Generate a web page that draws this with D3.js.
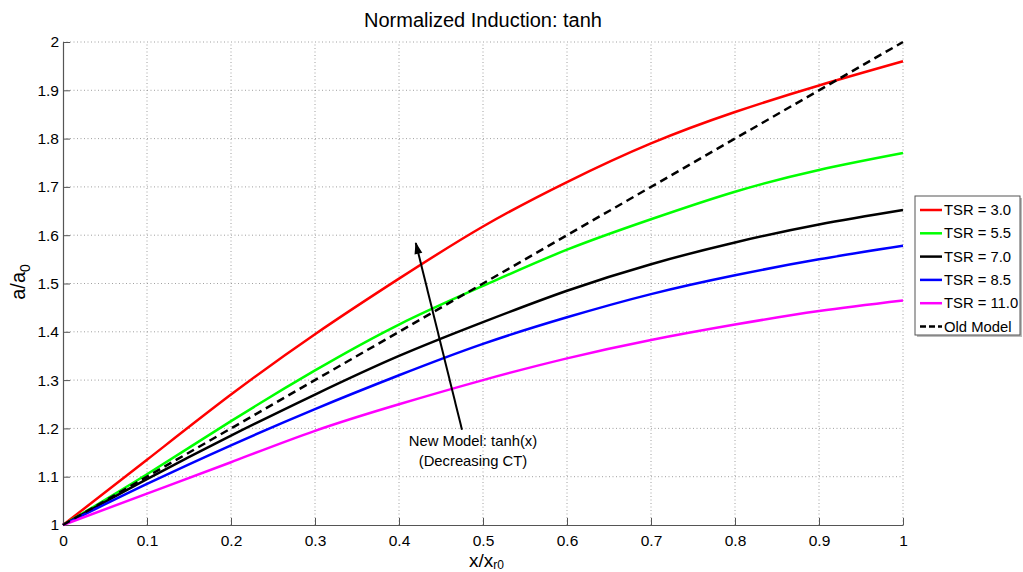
<!DOCTYPE html>
<html>
<head>
<meta charset="utf-8">
<script src="https://cdn.jsdelivr.net/npm/d3@7"></script>
<style>
  body { margin: 0; background: #fff; }
  text { font-family: "Liberation Sans", Arial, sans-serif; fill: #000; }
</style>
</head>
<body>
<svg id="chart" width="1023" height="572"></svg>
<script>
// values
const xs = [0, 0.1, 0.2, 0.3, 0.4, 0.5, 0.6, 0.7, 0.8, 0.9, 1.0]
const tsr30 = [1, 1.135, 1.27, 1.395, 1.51, 1.618, 1.71, 1.79, 1.855, 1.91, 1.96]
const tsr55 = [1, 1.105, 1.215, 1.32, 1.415, 1.495, 1.57, 1.633, 1.69, 1.735, 1.77]
const tsr70 = [1, 1.095, 1.185, 1.27, 1.35, 1.42, 1.485, 1.54, 1.585, 1.622, 1.652]
const tsr85 = [1, 1.085, 1.165, 1.24, 1.31, 1.375, 1.43, 1.478, 1.517, 1.55, 1.578]
const tsr110 = [1, 1.065, 1.13, 1.195, 1.25, 1.30, 1.345, 1.383, 1.415, 1.443, 1.465]
const oldX = [0, 1]
const oldY = [1, 2]

const seriesNames = ['TSR = 3.0', 'TSR = 5.5', 'TSR = 7.0', 'TSR = 8.5', 'TSR = 11.0', 'Old Model']
const seriesColors = ['#ff0000', '#00ff00', '#000000', '#0000ff', '#ff00ff', '#000000']

const xTicks = [0, 0.1, 0.2, 0.3, 0.4, 0.5, 0.6, 0.7, 0.8, 0.9, 1]
const yTicks = [1, 1.1, 1.2, 1.3, 1.4, 1.5, 1.6, 1.7, 1.8, 1.9, 2]

const arrowFrom = [0.475, 1.197]
const arrowTo = [0.42, 1.584]
const noteLines = ['New Model: tanh(x)', '(Decreasing CT)']

let svg = d3.select('#chart')

let x = d3.scaleLinear().domain([0, 1]).range([63, 903])
let y = d3.scaleLinear().domain([1, 2]).range([525, 42])

// grid
let grid = svg.append('g')
grid.selectAll('line.gx').data(xTicks.slice(1)).enter().append('line')
  .attr('x1', d => x(d)).attr('x2', d => x(d))
  .attr('y1', y(1)).attr('y2', y(2))
  .attr('stroke', '#888').attr('stroke-width', 0.8).attr('stroke-dasharray', '1,2.5')
grid.selectAll('line.gy').data(yTicks.slice(1)).enter().append('line')
  .attr('y1', d => y(d)).attr('y2', d => y(d))
  .attr('x1', x(0)).attr('x2', x(1))
  .attr('stroke', '#888').attr('stroke-width', 0.8).attr('stroke-dasharray', '1,2.5')

// axes
let xAxis = d3.axisBottom(x).tickValues(xTicks).tickFormat(d3.format('')).tickSizeInner(-7).tickSizeOuter(0).tickPadding(10)
let yAxis = d3.axisLeft(y).tickValues(yTicks).tickFormat(d3.format('')).tickSizeInner(-7).tickSizeOuter(0).tickPadding(4)

let gx = svg.append('g').attr('transform', `translate(0,${y(1)})`).call(xAxis)
let gy = svg.append('g').attr('transform', `translate(${x(0)},0)`).call(yAxis)
;[gx, gy].forEach(g => {
  g.select('.domain').attr('stroke', '#555').attr('stroke-width', 1.2)
  g.selectAll('.tick line').attr('stroke', '#555')
  g.selectAll('.tick text').attr('font-size', 15.5).attr('font-family', '"Liberation Sans", Arial, sans-serif').attr('fill', '#000')
})

// curves
let line = d3.line()
  .x(d => x(d[0]))
  .y(d => y(d[1]))
  .curve(d3.curveNatural)

let curves = [tsr30, tsr55, tsr70, tsr85, tsr110]
curves.forEach((vals, i) => {
  svg.append('path')
    .datum(xs.map((v, j) => [v, vals[j]]))
    .attr('fill', 'none')
    .attr('stroke', seriesColors[i])
    .attr('stroke-width', 2.5)
    .attr('d', line)
})

svg.append('path')
  .datum(oldX.map((v, j) => [v, oldY[j]]))
  .attr('fill', 'none')
  .attr('stroke', '#000')
  .attr('stroke-width', 2.5)
  .attr('stroke-dasharray', '8,5')
  .attr('d', line)

// arrow annotation
svg.append('defs').append('marker')
  .attr('id', 'head')
  .attr('viewBox', '0 0 12 10')
  .attr('refX', 11).attr('refY', 5)
  .attr('markerWidth', 7).attr('markerHeight', 5)
  .attr('orient', 'auto')
  .append('path').attr('d', 'M0,1 L12,5 L0,9 Z').attr('fill', '#000')

svg.append('line')
  .attr('x1', x(arrowFrom[0])).attr('y1', y(arrowFrom[1]))
  .attr('x2', x(arrowTo[0])).attr('y2', y(arrowTo[1]))
  .attr('stroke', '#000').attr('stroke-width', 2)
  .attr('marker-end', 'url(#head)')

svg.selectAll('text.note').data(noteLines).enter().append('text')
  .attr('x', 473)
  .attr('y', (d, i) => 446 + i * 20)
  .attr('text-anchor', 'middle')
  .attr('font-size', 14.8)
  .text(d => d)

// title and labels
svg.append('text').attr('x', 483).attr('y', 27).attr('text-anchor', 'middle')
  .attr('font-size', 20).text('Normalized Induction: tanh')

let xl = svg.append('text').attr('x', 469).attr('y', 567).attr('font-size', 19)
xl.append('tspan').text('x/x')
xl.append('tspan').attr('font-size', 12).attr('dy', 2).text('r0')

let yl = svg.append('text').attr('transform', 'translate(25,282) rotate(-90)').attr('text-anchor', 'middle').attr('font-size', 20)
yl.append('tspan').text('a/a')
yl.append('tspan').attr('font-size', 14).attr('dy', 5).text('0')

// legend
let lg = svg.append('g').attr('transform', 'translate(915,196)')
lg.append('rect').attr('x', 2).attr('y', 2).attr('width', 105).attr('height', 139).attr('fill', '#bbb')
lg.append('rect').attr('width', 105).attr('height', 139).attr('fill', '#fff').attr('stroke', '#555').attr('stroke-width', 1)
seriesNames.forEach((name, i) => {
  let yy = 14 + i * 23.3
  lg.append('line')
    .attr('x1', 5).attr('x2', 27).attr('y1', yy).attr('y2', yy)
    .attr('stroke', seriesColors[i]).attr('stroke-width', 2.5)
    .attr('stroke-dasharray', i === 5 ? '6,3' : null)
  lg.append('text').attr('x', 29).attr('y', yy + 5).attr('font-size', 14.8).text(name)
})
</script>
</body>
</html>
